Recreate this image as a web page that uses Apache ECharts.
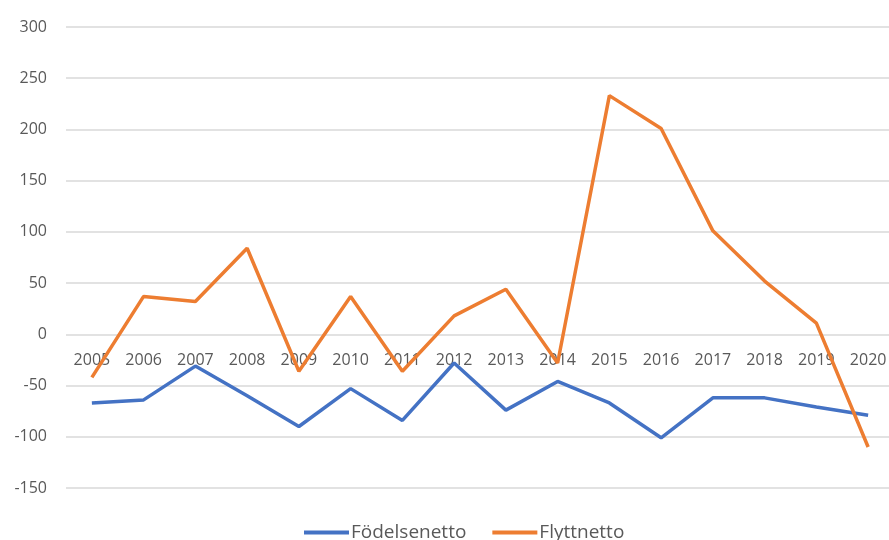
<!DOCTYPE html>
<html><head><meta charset="utf-8">
<script src="https://cdn.jsdelivr.net/npm/echarts@6/dist/echarts.min.js"></script>
<style>html,body{margin:0;padding:0;background:#fff}#c{width:889px;height:540px}</style>
</head><body><div id="c"></div>
<script>
const years = ['2005','2006','2007','2008','2009','2010','2011','2012','2013','2014','2015','2016','2017','2018','2019','2020'];
const fodelsenetto = [-67,-64,-31,-60,-90,-53,-84,-28,-74,-46,-67,-101,-62,-62,-71,-79];
const flyttnetto = [-42,37,32,84,-36,37,-36,18,44,-28,233,201,101,52,11,-110];
const yTicks = {min:-150, max:300, interval:50};

const chart = echarts.init(document.getElementById('c'));
chart.setOption({
  animation:false,
  grid:{left:66, right:-5, top:27, bottom:52, containLabel:false, outerBoundsMode:'none'},
  legend:{
    top:523, left:304, itemWidth:45, itemHeight:4, itemGap:26, padding:0,
    icon:'rect',
    textStyle:{color:'#595959', fontSize:19, padding:[0,0,0,-3], fontFamily:'"Open Sans", sans-serif'},
    data:['Födelsenetto','Flyttnetto']
  },
  xAxis:{
    type:'category', data:years, boundaryGap:true,
    axisLine:{show:false, onZero:true}, axisTick:{show:false},
    axisLabel:{color:'#595959', fontSize:16, margin:18, interval:0, fontFamily:'"Open Sans", sans-serif'}
  },
  yAxis:{
    type:'value', min:yTicks.min, max:yTicks.max, interval:yTicks.interval,
    axisLine:{show:false, onZero:false}, axisTick:{show:false},
    axisLabel:{color:'#595959', fontSize:16, margin:19, fontFamily:'"Open Sans", sans-serif'},
    splitLine:{lineStyle:{color:'#d9d9d9', width:1.5}}
  },
  series:[
    {name:'Födelsenetto', type:'line', data:fodelsenetto, symbol:'none', z:2, lineStyle:{color:'#4472C4', width:3.5}, itemStyle:{color:'#4472C4'}},
    {name:'Flyttnetto', type:'line', data:flyttnetto, symbol:'none', z:3, lineStyle:{color:'#ED7D31', width:3.5}, itemStyle:{color:'#ED7D31'}}
  ]
});
// place the category labels at the value-axis zero, using the library's own scale
const zeroPx = chart.convertToPixel({yAxisIndex:0}, 0);
const bottomPx = chart.convertToPixel({yAxisIndex:0}, yTicks.min);
chart.setOption({xAxis:{offset: zeroPx - bottomPx}});
</script></body></html>
